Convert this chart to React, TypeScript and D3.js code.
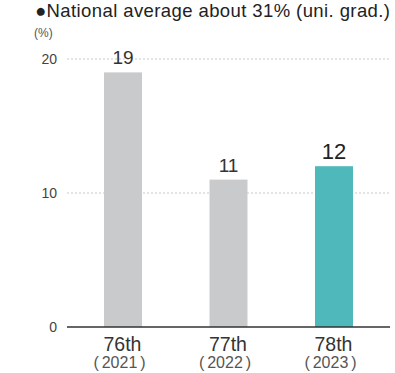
import React from "react";
import * as d3 from "d3";

const categories = ["76th", "77th", "78th"];
const yearNums = ["2021", "2022", "2023"];
const values = [19, 11, 12];
const yTicks = [0, 10, 20];
const title = "●National average about 31% (uni. grad.)";
const unit = "(%)";

const W = 395, H = 373;

export default function App() {
  const y = d3.scaleLinear().domain([0, 20]).range([327, 59]);
  const x = d3.scaleBand<string>().domain(categories).range([70.25, 386.75]).paddingInner(0.64).paddingOuter(0.32);
  const font = "Helvetica, Arial, 'Liberation Sans', sans-serif";
  return (
    <svg width={W} height={H} style={{ position: "absolute", left: 0, top: 0 }} fontFamily={font}>
      <text x={35} y={16.5} fontSize={18.5} fill="#222" textLength={355} lengthAdjust="spacing">{title}</text>
      <text x={34} y={37} fontSize={12} fill="#555">{unit}</text>
      {yTicks.map((t) => (
        <g key={t}>
          {t > 0 && (
            <line x1={67} x2={390} y1={y(t)} y2={y(t)} stroke="#bbb" strokeWidth={0.8} strokeDasharray="2,2" />
          )}
          <text x={57} y={y(t) + 5} fontSize={14} fill="#444" textAnchor="end">{t}</text>
        </g>
      ))}
      {values.map((v, i) => {
        const c = categories[i];
        const last = i === values.length - 1;
        const bx = x(c)!;
        const cx = bx + x.bandwidth() / 2;
        return (
          <g key={c}>
            <rect x={bx} y={y(v)} width={x.bandwidth()} height={y(0) - y(v)} fill={last ? "#4fb8bb" : "#c9cacb"} />
            <text x={cx} y={y(v) - (last ? 7 : 8)} fontSize={last ? 22 : 19} fill={last ? "#222" : "#333"} textAnchor="middle">{v}</text>
            <text x={cx - 0.5} y={351} fontSize={19.5} fill="#333" textAnchor="middle">{c}</text>
            <text x={cx - 3.5} y={368} fontSize={16} fill="#555" textAnchor="middle">
              (<tspan dx={3}>{yearNums[i]}</tspan><tspan dx={3}>)</tspan>
            </text>
          </g>
        );
      })}
      <line x1={67} x2={390} y1={y(0)} y2={y(0)} stroke="#333" strokeWidth={1.3} />
    </svg>
  );
}
